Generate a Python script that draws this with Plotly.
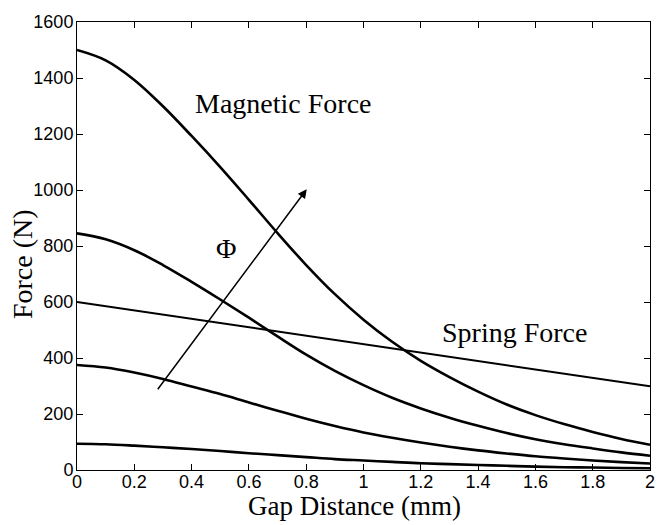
import plotly.graph_objects as go

gap_mm = [0.0, 0.1, 0.2, 0.3, 0.4, 0.5, 0.6, 0.7, 0.8, 0.9, 1.0,
          1.1, 1.2, 1.3, 1.4, 1.5, 1.6, 1.7, 1.8, 1.9, 2.0]

mag_force_1 = [1500, 1463, 1393, 1299, 1193, 1082, 965, 846, 732, 628, 537,
               458, 390, 332, 280, 234, 196, 164, 136, 111, 90]
mag_force_2 = [845, 824, 785, 732, 672, 609, 544, 477, 412, 354, 303,
               258, 220, 187, 158, 132, 110, 92, 77, 63, 51]
mag_force_3 = [375, 366, 348, 325, 298, 271, 241, 212, 183, 157, 134,
               115, 98, 83, 70, 59, 49, 41, 34, 28, 23]
mag_force_4 = [94, 92, 87, 81, 75, 68, 60, 53, 46, 39, 34,
               29, 24, 21, 18, 15, 12, 10, 9, 7, 6]

spring_x = [0.0, 2.0]
spring_force = [600, 299]

x_ticks = [0, 0.2, 0.4, 0.6, 0.8, 1, 1.2, 1.4, 1.6, 1.8, 2]
x_tick_labels = ["0", "0.2", "0.4", "0.6", "0.8", "1", "1.2", "1.4", "1.6", "1.8", "2"]
y_ticks = [0, 200, 400, 600, 800, 1000, 1200, 1400, 1600]

fig = go.Figure()
for ys in [mag_force_1, mag_force_2, mag_force_3, mag_force_4]:
    fig.add_trace(go.Scatter(x=gap_mm, y=ys, mode="lines",
                             line=dict(color="black", width=2.6, shape="spline"),
                             showlegend=False, hoverinfo="skip"))
fig.add_trace(go.Scatter(x=spring_x, y=spring_force, mode="lines",
                         line=dict(color="black", width=2.0),
                         showlegend=False, hoverinfo="skip"))

serif = "Liberation Serif, Times New Roman, serif"
sans = "Liberation Sans, Arial, sans-serif"

fig.add_annotation(x=0.802, y=1003, ax=0.278, ay=283, xref="x", yref="y",
                   axref="x", ayref="y", text="", showarrow=True,
                   arrowhead=2, arrowsize=1.2, arrowwidth=1.5, arrowcolor="black")
fig.add_annotation(x=0.722, y=1310, xref="x", yref="y", text="Magnetic Force",
                   showarrow=False, font=dict(family=serif, size=28, color="black"))
fig.add_annotation(x=1.528, y=491, xref="x", yref="y", text="Spring Force",
                   showarrow=False, font=dict(family=serif, size=28, color="black"))
fig.add_annotation(x=0.52, y=790, xref="x", yref="y", text="Φ",
                   showarrow=False, font=dict(family=serif, size=28, color="black"))

# axis titles
fig.add_annotation(x=0.484, y=-0.081, xref="paper", yref="paper",
                   text="Gap Distance (mm)", showarrow=False,
                   xanchor="center", yanchor="middle",
                   font=dict(family=serif, size=27, color="black"))
fig.add_annotation(x=-0.094, y=0.46, xref="paper", yref="paper",
                   text="Force (N)", showarrow=False, textangle=-90,
                   xanchor="center", yanchor="middle",
                   font=dict(family=serif, size=28, color="black"))

fig.update_layout(
    width=667, height=525,
    margin=dict(l=77, r=14, t=14, b=55),
    paper_bgcolor="white", plot_bgcolor="white",
    showlegend=False,
)
fig.update_xaxes(
    range=[0, 2], tickvals=x_ticks, ticktext=x_tick_labels,
    ticks="inside", ticklen=6, tickcolor="black", tickwidth=1,
    showline=True, linecolor="black", linewidth=1, mirror="ticks",
    showgrid=False, zeroline=False, ticklabelstandoff=-5,
    tickfont=dict(family=sans, size=18, color="black"),
)
fig.update_yaxes(
    range=[0, 1600], tickvals=y_ticks,
    ticks="inside", ticklen=6, tickcolor="black", tickwidth=1,
    showline=True, linecolor="black", linewidth=1, mirror="ticks",
    showgrid=False, zeroline=False, ticklabelstandoff=-1,
    tickfont=dict(family=sans, size=18, color="black"),
)

fig.write_html("out.html")
